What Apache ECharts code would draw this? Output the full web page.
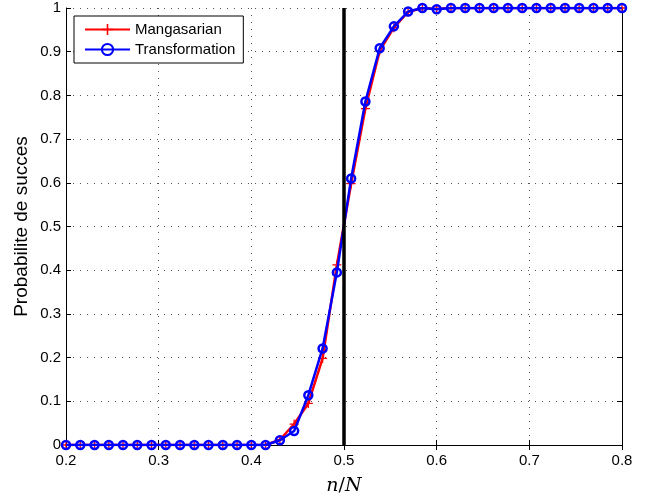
<!DOCTYPE html>
<html>
<head>
<meta charset="utf-8">
<script src="https://cdn.jsdelivr.net/npm/echarts@6/dist/echarts.min.js"></script>
<style>html,body{margin:0;padding:0;background:#fff;}#c{width:646px;height:496px;}</style>
</head>
<body>
<div id="c"></div>
<script>
const xValues = [0.2000,0.2154,0.2308,0.2462,0.2615,0.2769,0.2923,0.3077,0.3231,0.3385,
  0.3538,0.3692,0.3846,0.4000,0.4154,0.4308,0.4462,0.4615,0.4769,0.4923,
  0.5077,0.5231,0.5385,0.5538,0.5692,0.5846,0.6000,0.6154,0.6308,0.6462,
  0.6615,0.6769,0.6923,0.7077,0.7231,0.7385,0.7538,0.7692,0.7846,0.8000];
const mangasarian = [0,0,0,0,0,0,0,0,0,0,
  0,0,0,0,0,0.012,0.048,0.095,0.198,0.412,
  0.598,0.770,0.902,0.955,0.991,1,0.998,1,1,1,
  1,1,1,1,1,1,1,1,1,1];
const transformation = [0,0,0,0,0,0,0,0,0,0,
  0,0,0,0,0,0.011,0.032,0.114,0.221,0.395,
  0.610,0.786,0.908,0.958,0.992,1,0.997,1,1,1,
  1,1,1,1,1,1,1,1,1,1];
const thresholdX = 0.5;
const seriesNames = ['Mangasarian','Transformation'];
const xTitleParts = ['n','/','N'];
const yTitle = 'Probabilite de succes';

const chart = echarts.init(document.getElementById('c'));
const fmt = v => String(+(+v).toFixed(1));
const gridLine = {show:true, lineStyle:{color:'#555', width:1, type:[1,6]}};
const axLine = {show:true, lineStyle:{color:'#000', width:1}};
const tick = {show:true, inside:true, length:5, lineStyle:{color:'#000', width:1}};
const plus = 'path://M-1,-0.14H-0.14V-1H0.14V-0.14H1V0.14H0.14V1H-0.14V0.14H-1Z';
const serif = 'DejaVu Serif, Liberation Serif, serif';
chart.setOption({
  animation:false,
  backgroundColor:'#fff',
  textStyle:{fontFamily:'Liberation Sans, Arial, sans-serif'},
  grid:{left:66, right:24, top:8, bottom:51, containLabel:false, outerBoundsMode:'none'},
  legend:{
    orient:'vertical', left:74, top:16,
    itemWidth:45, itemHeight:14, itemGap:5,
    padding:[6,8,6,10],
    borderColor:'#000', borderWidth:1, backgroundColor:'#fff',
    textStyle:{fontSize:15, color:'#000', fontFamily:'Liberation Sans, Arial, sans-serif'},
    data:seriesNames
  },
  xAxis:[{
    type:'value', min:0.2, max:0.8, interval:0.1,
    axisLine:axLine, axisTick:tick, splitLine:gridLine,
    axisLabel:{formatter:fmt, fontSize:15, color:'#000', margin:8},
    name:'{i|'+xTitleParts[0]+'}{u|'+xTitleParts[1]+'}{i|'+xTitleParts[2]+'}',
    nameLocation:'middle', nameGap:32, nameMoveOverlap:false,
    nameTextStyle:{fontSize:19, color:'#000', fontFamily:serif,
      rich:{
        i:{fontFamily:serif, fontStyle:'italic', fontSize:19, color:'#000'},
        u:{fontFamily:serif, fontSize:19, color:'#000'}
      }}
  },{
    type:'value', position:'top', min:0.2, max:0.8, interval:0.1,
    axisLine:axLine, axisTick:tick, splitLine:{show:false}, axisLabel:{show:false}
  }],
  yAxis:[{
    type:'value', min:0, max:1, interval:0.1,
    axisLine:axLine, axisTick:tick, splitLine:gridLine,
    axisLabel:{formatter:fmt, fontSize:15, color:'#000', margin:5},
    name:yTitle, nameLocation:'middle', nameGap:35, nameRotate:90, nameMoveOverlap:false,
    nameTextStyle:{fontSize:19, color:'#000'}
  },{
    type:'value', position:'right', min:0, max:1, interval:0.1,
    axisLine:axLine, axisTick:tick, splitLine:{show:false}, axisLabel:{show:false}
  }],
  series:[{
    name:seriesNames[0], type:'line',
    data:xValues.map((x,i)=>[x, mangasarian[i]]),
    symbol:plus, symbolSize:9, showAllSymbol:true,
    lineStyle:{color:'#ff0000', width:2.5},
    itemStyle:{color:'#ff0000'},
    z:3,
    markLine:{
      silent:true, symbol:'none', label:{show:false},
      lineStyle:{color:'#000', width:3.5, type:'solid'},
      data:[{xAxis:thresholdX}]
    }
  },{
    name:seriesNames[1], type:'line',
    data:xValues.map((x,i)=>[x, transformation[i]]),
    symbol:'circle', symbolSize:8, showAllSymbol:true,
    lineStyle:{color:'#0000ff', width:2.5},
    itemStyle:{color:'rgba(0,0,0,0)', borderColor:'#0000ff', borderWidth:2.5},
    z:4
  }]
});
</script>
</body>
</html>
